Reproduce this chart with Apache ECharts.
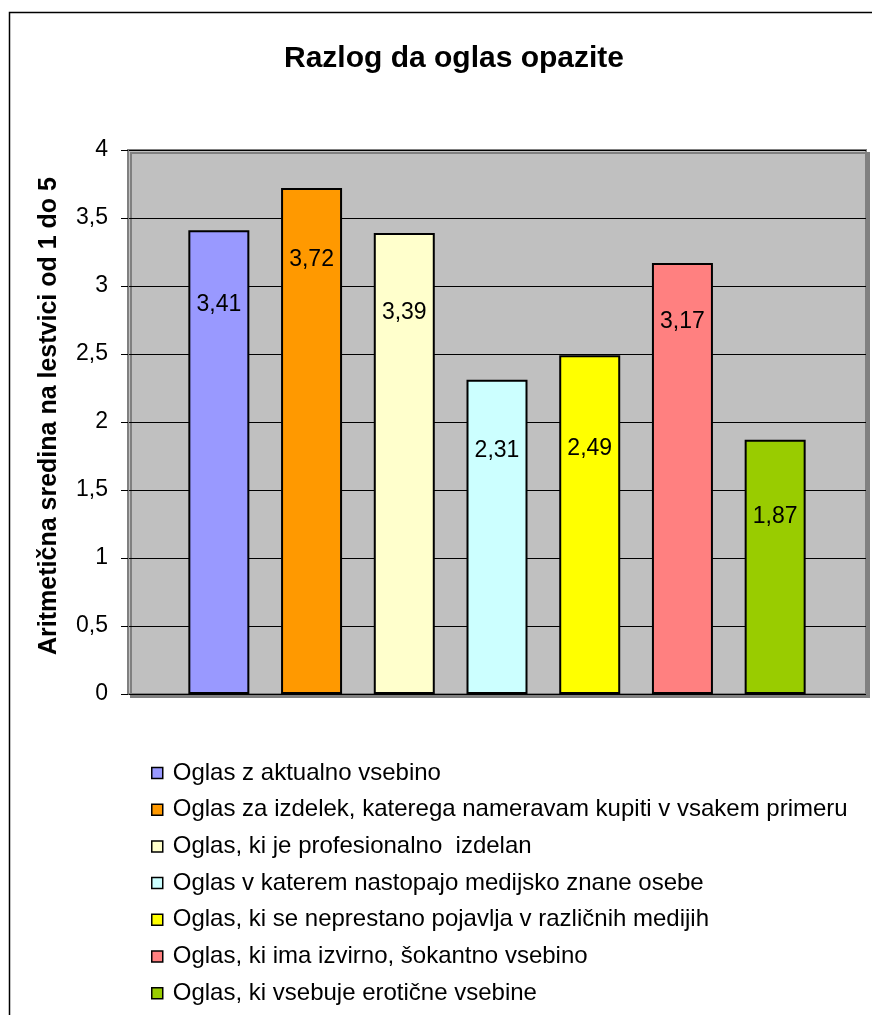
<!DOCTYPE html>
<html>
<head>
<meta charset="utf-8">
<script src="https://cdn.jsdelivr.net/npm/echarts@6/dist/echarts.min.js"></script>
<style>
  html, body { margin: 0; padding: 0; background: #fff; }
  #chart { width: 872px; height: 1015px; }
</style>
</head>
<body>
<div id="chart"></div>
<script>
// Razlog da oglas opazite – povprečne ocene (lestvica 1–5)
const seriesNames = [
  'Oglas z aktualno vsebino',
  'Oglas za izdelek, katerega nameravam kupiti v vsakem primeru',
  'Oglas, ki je profesionalno  izdelan',
  'Oglas v katerem nastopajo medijsko znane osebe',
  'Oglas, ki se neprestano pojavlja v različnih medijih',
  'Oglas, ki ima izvirno, šokantno vsebino',
  'Oglas, ki vsebuje erotične vsebine'
];
const values = [3.41, 3.72, 3.39, 2.31, 2.49, 3.17, 1.87];
const yTicks = [0, 0.5, 1, 1.5, 2, 2.5, 3, 3.5, 4];

// styling
const barColors = ['#9999FF', '#FF9900', '#FFFFCC', '#CCFFFF', '#FFFF00', '#FF8080', '#99CC00'];
const labelDrop = [63, 60, 68, 59, 82, 47, 65];
const FONT = '"Liberation Sans", Arial, sans-serif';

const comma = v => String(v).replace('.', ',');

const chart = echarts.init(document.getElementById('chart'), null, { renderer: 'canvas' });

const series = seriesNames.map((name, i) => ({
  name: name,
  type: 'bar',
  data: [values[i]],
  barWidth: 61,
  barGap: '52%',
  itemStyle: { color: barColors[i], borderColor: '#000', borderWidth: 2 },
  label: {
    show: true,
    position: 'insideTop',
    distance: labelDrop[i],
    formatter: p => comma(p.value),
    color: '#000',
    fontFamily: FONT,
    fontSize: 23
  },
  emphasis: { disabled: true }
}));

chart.setOption({
  animation: false,
  backgroundColor: '#fff',
  textStyle: { fontFamily: FONT },
  graphic: [{
    type: 'rect',
    shape: { x: 9.5, y: 12.5, width: 900, height: 1100 },
    style: { fill: 'none', stroke: '#000', lineWidth: 1.5 },
    z: 0
  }],
  title: {
    text: 'Razlog da oglas opazite',
    left: 449,
    top: 39,
    textAlign: 'center',
    textStyle: { fontFamily: FONT, fontWeight: 'bold', fontSize: 30, color: '#000' }
  },
  grid: {
    left: 128, top: 150, right: 6, bottom: 321,
    show: true,
    backgroundColor: '#C0C0C0',
    borderColor: '#808080',
    borderWidth: 2,
    shadowColor: '#808080',
    shadowOffsetX: 3,
    shadowOffsetY: 3,
    shadowBlur: 0
  },
  legend: {
    orient: 'vertical',
    left: 151,
    top: 761,
    padding: 0,
    itemWidth: 11,
    itemHeight: 11,
    itemGap: 12.7,
    icon: 'rect',
    itemStyle: { borderColor: '#000', borderWidth: 1.5 },
    textStyle: { fontFamily: FONT, fontSize: 24, color: '#000', lineHeight: 24, padding: [0, 0, 0, 5] },
    selectedMode: false,
    data: seriesNames
  },
  xAxis: {
    type: 'category',
    data: [''],
    axisLine: { show: false },
    axisTick: { show: false },
    axisLabel: { show: false }
  },
  yAxis: {
    type: 'value',
    min: yTicks[0],
    max: yTicks[yTicks.length - 1],
    interval: 0.5,
    name: 'Aritmetična sredina na lestvici od 1 do 5',
    nameLocation: 'middle',
    nameGap: 66,
    nameTextStyle: { fontFamily: FONT, fontWeight: 'bold', fontSize: 25, color: '#000', padding: [0, 0, 0, 12] },
    axisLine: { show: true, lineStyle: { color: '#808080', width: 2 } },
    axisTick: { show: true, inside: false, length: 7, lineStyle: { color: '#000', width: 1 } },
    axisLabel: {
      margin: 20,
      color: '#000',
      fontFamily: FONT,
      fontSize: 23,
      formatter: v => comma(v)
    },
    splitLine: { show: true, lineStyle: { color: '#000', width: 1 } }
  },
  series: series
});
</script>
</body>
</html>
